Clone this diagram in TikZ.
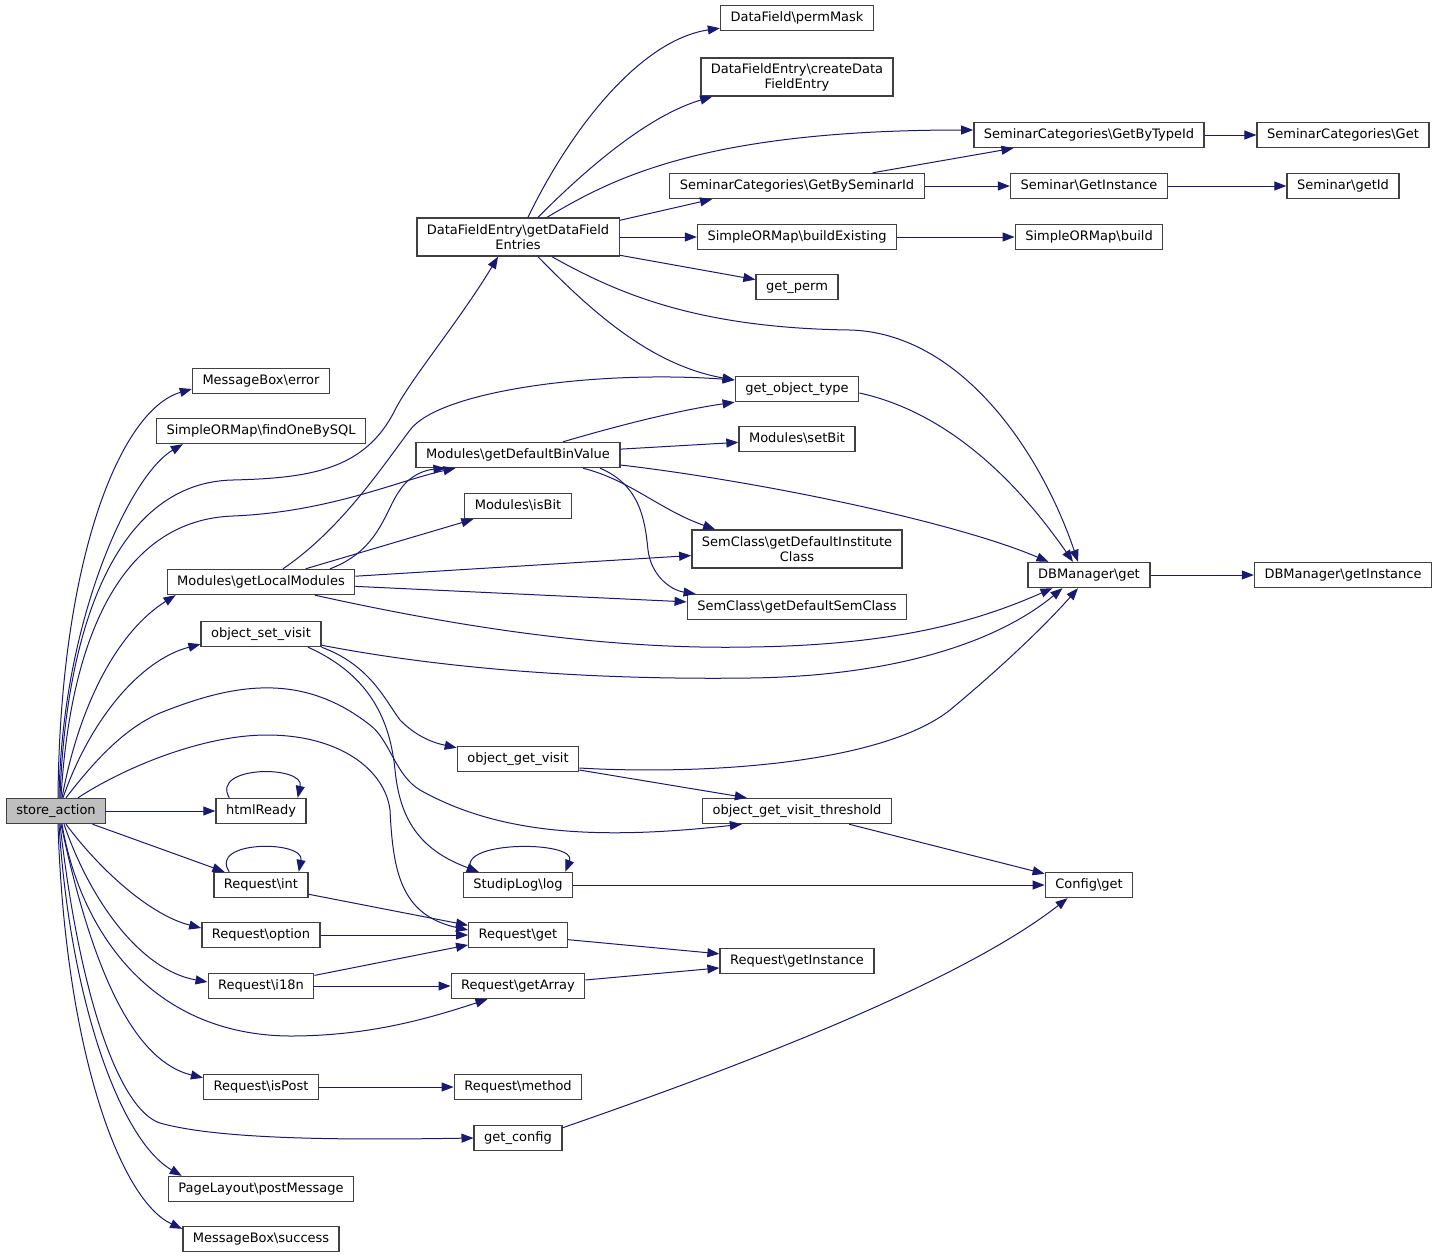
\documentclass[tikz,border=0pt]{standalone}
\usepackage{fontspec}
\setmainfont{DejaVu Sans}
\usepackage{tikz}
\usetikzlibrary{arrows.meta}
\definecolor{edgeblue}{HTML}{191970}
\definecolor{boxgray}{HTML}{404040}
\definecolor{storegray}{HTML}{BFBFBF}
\newcommand{\bsl}{\textbackslash}

\begin{document}
\begin{tikzpicture}[x=1pt, y=-1pt,
box/.style={draw=boxgray, line width=1.4pt, fill=white, inner xsep=10pt, font=\fontsize{13}{15}\selectfont},
fn/.style={box, inner ysep=0pt, minimum height=25pt, text height=9.7pt, text depth=3.1pt},
fn2/.style={box, align=center, inner ysep=5pt, minimum height=38pt},
call/.style={draw=edgeblue, line width=1pt, -{Triangle[length=12pt,width=9pt]}}]

\useasboundingbox (0,0) rectangle (1437,1259);

\node[fn, fill=storegray] (1) at (56,811) {store\_action};
\node[fn] (2) at (261,381) {MessageBox\bsl error};
\node[fn] (3) at (261,431) {SimpleORMap\bsl findOneBySQL};
\node[fn] (4) at (261,582) {Modules\bsl getLocalModules};
\node[fn] (5) at (261,634) {object\_set\_visit};
\node[fn] (6) at (261,811) {htmlReady};
\node[fn] (7) at (261,885) {Request\bsl int};
\node[fn] (8) at (261,935) {Request\bsl option};
\node[fn] (9) at (261,986) {Request\bsl i18n};
\node[fn] (10) at (261,1087) {Request\bsl isPost};
\node[fn] (11) at (261,1189) {PageLayout\bsl postMessage};
\node[fn] (12) at (261,1239) {MessageBox\bsl success};
\node[fn2] (13) at (518,237) {DataFieldEntry\bsl getDataField\\Entries};
\node[fn] (14) at (518,455) {Modules\bsl getDefaultBinValue};
\node[fn] (15) at (518,506) {Modules\bsl isBit};
\node[fn] (16) at (518,759) {object\_get\_visit};
\node[fn] (17) at (518,885) {StudipLog\bsl log};
\node[fn] (18) at (518,935) {Request\bsl get};
\node[fn] (19) at (518,986) {Request\bsl getArray};
\node[fn] (20) at (518,1087) {Request\bsl method};
\node[fn] (21) at (518,1138) {get\_config};
\node[fn] (22) at (797,18) {DataField\bsl permMask};
\node[fn2] (23) at (797,77) {DataFieldEntry\bsl createData\\FieldEntry};
\node[fn] (24) at (797,186) {SeminarCategories\bsl GetBySeminarId};
\node[fn] (25) at (797,237) {SimpleORMap\bsl buildExisting};
\node[fn] (26) at (797,287) {get\_perm};
\node[fn] (27) at (797,389) {get\_object\_type};
\node[fn] (28) at (797,439) {Modules\bsl setBit};
\node[fn2] (29) at (797,549) {SemClass\bsl getDefaultInstitute\\Class};
\node[fn] (30) at (797,607) {SemClass\bsl getDefaultSemClass};
\node[fn] (31) at (797,811) {object\_get\_visit\_threshold};
\node[fn] (32) at (797,961) {Request\bsl getInstance};
\node[fn] (33) at (1089,135) {SeminarCategories\bsl GetByTypeId};
\node[fn] (34) at (1089,186) {Seminar\bsl GetInstance};
\node[fn] (35) at (1089,237) {SimpleORMap\bsl build};
\node[fn] (36) at (1089,575) {DBManager\bsl get};
\node[fn] (37) at (1089,885) {Config\bsl get};
\node[fn] (38) at (1343,135) {SeminarCategories\bsl Get};
\node[fn] (39) at (1343,186) {Seminar\bsl getId};
\node[fn] (40) at (1343,575) {DBManager\bsl getInstance};

\draw[call] ([shift={(2,0)}]1.north) .. controls (60,560) and (120,410) .. ([shift={(0,8)}]2.west);
\draw[call] ([shift={(3,0)}]1.north) .. controls (62,620) and (130,475) .. ([shift={(27,0)}]3.south west);
\draw[call] ([shift={(4,0)}]1.north) .. controls (66,620) and (120,482) .. (233,480) .. controls (310,478) and (365,470) .. (395,410) .. controls (410,380) and (460,320) .. ([shift={(-20,0)}]13.south);
\draw[call] ([shift={(5,0)}]1.north) .. controls (70,640) and (120,520) .. (233,516) .. controls (330,512) and (400,480) .. ([shift={(40,0)}]14.south west);
\draw[call] ([shift={(6,0)}]1.north) .. controls (80,700) and (120,630) .. ([shift={(9,0)}]4.south west);
\draw[call] ([shift={(7,0)}]1.north) .. controls (90,720) and (140,660) .. ([shift={(0,-3)}]5.south west);
\draw[call] ([shift={(10,0)}]1.north) .. controls (95,760) and (125,728) .. (160,713) .. controls (230,685) and (300,670) .. (370,725) .. controls (390,740) and (395,775) .. (420,790) .. controls (500,835) and (600,840) .. ([shift={(40,0)}]31.south west);
\draw[call] ([shift={(22,0)}]1.north) .. controls (120,770) and (200,735) .. (267,735) .. controls (340,735) and (385,770) .. (390,810) .. controls (393,870) and (400,915) .. ([shift={(0,-5)}]18.west);
\draw[call] (1) -- (6);
\draw[call] (1) -- (7);
\draw[call] ([shift={(10,0)}]1.south) .. controls (100,870) and (150,915) .. ([shift={(0,-7)}]8.west);
\draw[call] ([shift={(8,0)}]1.south) .. controls (90,900) and (140,970) .. ([shift={(0,-4)}]9.west);
\draw[call] ([shift={(6,0)}]1.south) .. controls (80,930) and (150,1035) .. (290,1036) .. controls (370,1036) and (430,1018) .. ([shift={(37,0)}]19.south west);
\draw[call] ([shift={(5,0)}]1.south) .. controls (90,960) and (130,1060) .. ([shift={(0,4)}]10.north west);
\draw[call] ([shift={(4,0)}]1.south) .. controls (80,1000) and (120,1110) .. (160,1123) .. controls (220,1140) and (350,1140) .. (21.west);
\draw[call] ([shift={(3,0)}]1.south) .. controls (70,1000) and (120,1140) .. ([shift={(14,0)}]11.north west);
\draw[call] ([shift={(2,0)}]1.south) .. controls (65,1050) and (120,1200) .. ([shift={(0,3)}]12.north west);

\draw[call] ([shift={(14,0)}]6.north west) .. controls (210,765) and (305,765) .. ([shift={(-9,0)}]6.north east);
\draw[call] ([shift={(16,0)}]7.north west) .. controls (208,840) and (305,840) .. ([shift={(-10,0)}]7.north east);
\draw[call] ([shift={(10,0)}]17.north west) .. controls (450,840) and (578,840) .. ([shift={(-8,0)}]17.north east);

\draw[call] (7) -- (18);
\draw[call] (8) -- (18);
\draw[call] (9) -- (18);
\draw[call] (9) -- (19);
\draw[call] (18) -- (32);
\draw[call] (19) -- (32);
\draw[call] (10) -- (20);
\draw[call] ([shift={(0,3)}]21.north east) .. controls (700,1080) and (950,990) .. ([shift={(23,0)}]37.south west);

\draw[call] ([shift={(10,0)}]13.north) .. controls (570,130) and (640,40) .. ([shift={(0,-3)}]22.south west);
\draw[call] ([shift={(20,0)}]13.north) .. controls (590,165) and (650,115) .. ([shift={(12,0)}]23.south west);
\draw[call] ([shift={(29,0)}]13.north) .. controls (610,180) and (700,130) .. ([shift={(0,-5)}]33.west);
\draw[call] ([shift={(0,3)}]13.north east) -- ([shift={(43,0)}]24.south west);
\draw[call] (13) -- (25);
\draw[call] (13) -- (26);
\draw[call] ([shift={(20,0)}]13.south) .. controls (590,310) and (650,365) .. ([shift={(0,-9)}]27.west);
\draw[call] ([shift={(34,0)}]13.south) .. controls (620,295) and (700,328) .. (850,330) .. controls (960,333) and (1040,450) .. ([shift={(-11,0)}]36.north);

\draw[call] (24) -- (33);
\draw[call] (24) -- (34);
\draw[call] (33) -- (38);
\draw[call] (34) -- (39);
\draw[call] (25) -- (35);
\draw[call] ([shift={(0,4)}]27.east) .. controls (960,415) and (1030,500) .. ([shift={(-16,0)}]36.north);

\draw[call] ([shift={(45,0)}]14.north) .. controls (620,425) and (680,410) .. (27.south west);
\draw[call] (14) -- (28);
\draw[call] ([shift={(0,10)}]14.east) .. controls (750,480) and (950,520) .. ([shift={(21,0)}]36.north west);
\draw[call] ([shift={(65,0)}]14.south) .. controls (630,480) and (660,510) .. ([shift={(24,0)}]29.north west);
\draw[call] ([shift={(82,0)}]14.south) .. controls (640,485) and (645,520) .. (648,550) .. controls (651,575) and (670,590) .. ([shift={(9,0)}]30.north west);

\draw[call] ([shift={(22,0)}]4.north) .. controls (340,530) and (380,470) .. (410,430) .. controls (440,390) and (600,370) .. ([shift={(0,-9)}]27.west);
\draw[call] ([shift={(69,0)}]4.north) .. controls (380,550) and (385,510) .. (400,490) .. controls (410,475) and (425,470) .. ([shift={(30,0)}]14.south west);
\draw[call] (4) -- (15);
\draw[call] (4) -- (29);
\draw[call] (4) -- (30);
\draw[call] ([shift={(54,0)}]4.south) .. controls (450,625) and (600,650) .. (750,647) .. controls (900,645) and (980,620) .. ([shift={(25,0)}]36.south west);

\draw[call] ([shift={(0,-2)}]5.south east) .. controls (450,670) and (600,680) .. (750,678) .. controls (900,676) and (1000,640) .. ([shift={(35,0)}]36.south west);
\draw[call] (5.south east) .. controls (370,665) and (385,700) .. (400,720) .. controls (415,735) and (430,742) .. ([shift={(0,2)}]16.north west);
\draw[call] ([shift={(47,0)}]5.south) .. controls (370,675) and (390,720) .. (395,770) .. controls (400,820) and (420,850) .. ([shift={(16,0)}]17.north west);

\draw[call] ([shift={(0,9)}]16.east) .. controls (700,775) and (880,765) .. (950,710) .. controls (1010,660) and (1050,620) .. ([shift={(-11,0)}]36.south);
\draw[call] ([shift={(0,11)}]16.east) -- ([shift={(45,0)}]31.north west);
\draw[call] (31) -- (37);
\draw[call] (17) -- (37);
\draw[call] (36) -- (40);

\end{tikzpicture}
\end{document}
